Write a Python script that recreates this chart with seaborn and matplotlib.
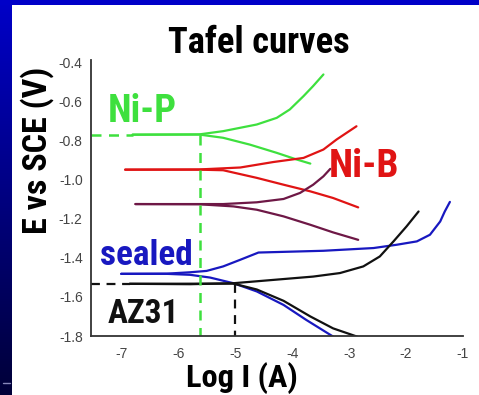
import numpy as np
import pandas as pd
import matplotlib
matplotlib.use("Agg")
import matplotlib.pyplot as plt
from matplotlib import font_manager
from matplotlib.font_manager import FontProperties
from matplotlib.colors import LinearSegmentedColormap
import seaborn as sns

# ---------------- data ----------------
nip_up_x = [-6.80, -5.64, -5.21, -4.62, -4.27, -4.04, -3.80, -3.63, -3.45]
nip_up_e = [-0.770, -0.769, -0.752, -0.718, -0.684, -0.641, -0.573, -0.521, -0.462]
nip_lo_x = [-6.80, -5.64, -5.21, -4.74, -4.27, -3.92, -3.68]
nip_lo_e = [-0.770, -0.769, -0.786, -0.821, -0.863, -0.897, -0.918]

nib_up_x = [-6.93, -5.64, -4.91, -4.33, -3.80, -3.45, -3.22, -2.87]
nib_up_e = [-0.949, -0.948, -0.938, -0.910, -0.889, -0.846, -0.795, -0.727]
nib_lo_x = [-6.93, -5.64, -5.21, -4.62, -4.15, -3.68, -3.28, -2.84]
nib_lo_e = [-0.949, -0.949, -0.952, -0.991, -1.026, -1.060, -1.094, -1.142]

nib2_up_x = [-6.75, -5.64, -5.21, -4.62, -4.15, -3.86, -3.63, -3.45, -3.33]
nib2_up_e = [-1.125, -1.125, -1.125, -1.116, -1.099, -1.068, -1.026, -0.983, -0.945]
nib2_lo_x = [-6.75, -5.64, -5.03, -4.62, -4.15, -3.68, -3.28, -2.84]
nib2_lo_e = [-1.125, -1.126, -1.137, -1.154, -1.188, -1.231, -1.270, -1.308]

sea_up_x = [-7.00, -6.20, -5.79, -5.50, -5.21, -4.91, -4.59, -3.45, -2.57, -2.16,
            -1.81, -1.58, -1.40, -1.32, -1.23]
sea_up_e = [-1.482, -1.481, -1.474, -1.467, -1.444, -1.410, -1.373, -1.364, -1.350,
            -1.333, -1.316, -1.282, -1.214, -1.163, -1.114]
sea_lo_x = [-7.00, -6.20, -5.79, -5.44, -5.03, -4.62, -4.15, -3.75, -3.28]
sea_lo_e = [-1.482, -1.482, -1.487, -1.501, -1.530, -1.572, -1.641, -1.718, -1.803]

az_up_x = [-6.85, -5.79, -5.03, -4.33, -3.63, -3.16, -2.75, -2.46, -2.22, -1.99, -1.78]
az_up_e = [-1.533, -1.535, -1.530, -1.513, -1.496, -1.478, -1.444, -1.393, -1.316,
           -1.239, -1.163]
az_lo_x = [-6.85, -5.03, -4.62, -4.15, -3.68, -3.28, -2.86]
az_lo_e = [-1.533, -1.532, -1.562, -1.620, -1.700, -1.761, -1.803]

ecorr_nip_x, ecorr_nip_e = -5.62, -0.770
ecorr_az_x, ecorr_az_e = -5.00, -1.533

x_ticks = [-7, -6, -5, -4, -3, -2, -1]
y_ticks = [-1.8, -1.6, -1.4, -1.2, -1.0, -0.8, -0.6, -0.4]

# ---------------- style ----------------
sns.set_theme(style="white")
plt.rcParams["axes.unicode_minus"] = False
plt.rcParams["font.family"] = ["Liberation Sans", "DejaVu Sans"]

# pick the narrowest bold font available for the condensed headings
cands = ["LiberationSansNarrow-Bold", "RobotoCondensed-Bold", "OpenSans-CondBold",
         "OpenSansCondensed-Bold", "DejaVuSansCondensed-Bold", "NotoSans-CondensedBold",
         "Lato-Bold", "DejaVuSans-Bold"]
files = [f.fname for f in font_manager.fontManager.ttflist]
cond_fp = None
for c in cands:
    hit = [p for p in files if c.lower() in p.lower().replace(" ", "").replace("_", "")]
    if hit:
        cond_fp = FontProperties(fname=hit[0])
        break
if cond_fp is None:
    cond_fp = FontProperties(family="DejaVu Sans", weight="bold")

GREEN = "#3ee03e"
RED = "#e01414"
PURPLE = "#6e1846"
BLUE = "#1818c0"
BLACK = "#111111"

W, H = 479, 395
fig = plt.figure(figsize=(W / 100, H / 100), dpi=100)
fig.patch.set_facecolor("white")

# background frame: blue top band and a blue-to-black gradient on the left
bg = fig.add_axes([0, 0, 1, 1], zorder=-10)
bg.set_xlim(0, W); bg.set_ylim(H, 0); bg.axis("off")
grad = np.linspace(0, 1, 256).reshape(-1, 1)
cm = LinearSegmentedColormap.from_list("g", ["#0000c8", "#000038"])
bg.imshow(grad, cmap=cm, extent=[0, 12, H, 0], aspect="auto")
bg.add_patch(plt.Rectangle((0, 0), W, 5, color="#0000c8", lw=0))
bg.plot([3, 10], [383, 383], color="#8888bb", lw=1)

ax = fig.add_axes([91 / W, 1 - 336 / H, (463 - 91) / W, (336 - 60) / H])
ax.set_facecolor("none")

def draw(xs, es, color):
    df = pd.DataFrame({"x": xs, "E": es})
    sns.lineplot(data=df, x="x", y="E", sort=False, estimator=None,
                 color=color, lw=1.6, ax=ax)

draw(nip_up_x, nip_up_e, GREEN); draw(nip_lo_x, nip_lo_e, GREEN)
draw(nib_up_x, nib_up_e, RED); draw(nib_lo_x, nib_lo_e, RED)
draw(nib2_up_x, nib2_up_e, PURPLE); draw(nib2_lo_x, nib2_lo_e, PURPLE)
draw(sea_up_x, sea_up_e, BLUE); draw(sea_lo_x, sea_lo_e, BLUE)
draw(az_up_x, az_up_e, BLACK); draw(az_lo_x, az_lo_e, BLACK)

# Ecorr guide lines
xmin, xmax = -7.53, -1.0
ymin, ymax = -1.8, -0.388
ax.plot([xmin, nip_up_x[0]], [ecorr_nip_e] * 2, color=GREEN, lw=1.8, ls=(0, (4, 3)))
ax.plot([ecorr_nip_x] * 2, [ecorr_nip_e, ymin], color=GREEN, lw=1.8, ls=(0, (4, 3)))
ax.plot([xmin, az_up_x[0]], [ecorr_az_e] * 2, color=BLACK, lw=1.6, ls=(0, (4, 3)))
ax.plot([ecorr_az_x] * 2, [ecorr_az_e, ymin], color=BLACK, lw=1.6, ls=(0, (4, 3)))

ax.set_xlim(xmin, xmax)
ax.set_ylim(ymin, ymax)
ax.set_xticks(x_ticks)
ax.set_yticks(y_ticks)
ax.set_xticklabels([str(v) for v in x_ticks])
ax.set_yticklabels([f"{v:.1f}" for v in y_ticks])
ax.set_xticks(np.arange(-7.5, -1.0, 0.5), minor=True)
ax.set_yticks(np.arange(-1.8, -0.35, 0.1), minor=True)
for s in ["top", "right"]:
    ax.spines[s].set_visible(False)
for s in ["left", "bottom"]:
    ax.spines[s].set_color("#333333")
    ax.spines[s].set_linewidth(1.3)
ax.tick_params(which="major", direction="in", length=5, width=1.2, color="#333333",
               labelsize=10, labelcolor="#444444", pad=6)
ax.tick_params(which="minor", direction="in", length=3, width=1.0, color="#333333")
ax.tick_params(axis="x", which="major", pad=8)
ax.set_xlabel("")
ax.set_ylabel("")

# headings: placed in pixel coordinates, sized to the reference width / cap height
renderer = fig.canvas.get_renderer()

def heading(txt, x, y, width, cap, color, ha="center", rot=0, slack=1.1):
    fp = cond_fp.copy()
    fp.set_size(20)
    t = fig.text(x / W, 1 - y / H, txt, ha=ha, va="baseline", rotation=rot,
                 rotation_mode="anchor", color=color, fontproperties=fp)
    bb = t.get_window_extent(renderer)
    cur = bb.height if rot else bb.width
    s_w = 20 * width * slack / cur
    s_h = cap / 0.71 * 72 / 100
    fp.set_size(min(s_w, s_h))
    t.set_fontproperties(fp)
    return t

heading("Tafel curves", 259, 53, 165, 28, "black")
heading("Log I (A)", 242, 387, 109, 23, "black")
heading("E vs SCE (V)", 47, 150, 167, 30, "black", rot=90, slack=1.0)
heading("Ni-P", 142, 122, 55, 28, GREEN, slack=1.25)
heading("Ni-B", 364, 177, 57, 28, RED, slack=1.25)
heading("sealed", 146, 265, 88, 25, BLUE, slack=1.2)
heading("AZ31", 143, 323, 57, 27, BLACK, slack=1.25)

fig.savefig("out.png", dpi=100)
